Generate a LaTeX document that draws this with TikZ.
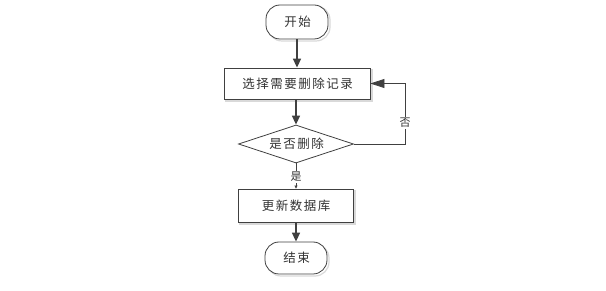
\documentclass[tikz,border=0pt]{standalone}
\usepackage{fontspec}
\newfontfamily\cjk[LetterSpace=12]{Noto Sans CJK SC}
\usetikzlibrary{shapes.geometric,arrows.meta}
\definecolor{ln}{HTML}{404040}
\tikzset{
  base/.style={draw=ln, line width=0.8pt, fill=white, font=\cjk\fontsize{12.5}{14}\selectfont, inner sep=0pt, text=black!80},
  term/.style={base, rounded corners=14pt, minimum width=62pt, minimum height=34pt},
  proc/.style={base, minimum height=31pt},
  dec/.style={base, diamond, aspect=3.0, minimum width=115pt, minimum height=38pt},
  shad/.style={draw=black!15, line width=1.2pt},
  flow/.style={draw=ln, line width=1.6pt, -{Triangle[length=9pt,width=8pt]}},
  lbl/.style={font=\cjk\fontsize{11}{13}\selectfont, fill=white, inner sep=1pt, text=black!80}
}
\begin{document}
\begin{tikzpicture}[x=1pt,y=-1pt]
\useasboundingbox (0,0) rectangle (606,291);
% shadows
\draw[shad, rounded corners=14pt] (268,6) rectangle (330,41);
\draw[shad] (226,70) rectangle (372,101);
\draw[shad] (240,191) rectangle (355,224);
\draw[shad, rounded corners=14pt] (267,244) rectangle (329,276);
\node[term] (start) at (297,22) {\hspace{1pt}开始};
\node[proc, minimum width=146pt] (sel) at (297,83.5) {\hspace{1pt}选择需要删除记录};
\node[dec] (chk) at (296,144) {\hspace{1pt}是否删除};
\node[proc, minimum width=115pt, minimum height=33pt] (upd) at (295.5,205.5) {\hspace{1pt}更新数据库};
\node[term, minimum width=62pt, minimum height=32pt] (end) at (296,258) {\hspace{1pt}结束};
\coordinate (c1) at (405,144);
\coordinate (c2) at (405,83.5);
\draw[flow] (start) -- (sel);
\draw[flow] (sel.south -| chk.north) -- (chk.north);
\draw[draw=ln, line width=0.8pt, -{Triangle[length=14pt,width=9pt]}] (chk.east) -- (c1) -- (c2) -- (sel.east);
\node[lbl] at (405,123) {否};
\draw[draw=ln, line width=0.6pt, -{Triangle[length=3pt,width=3pt]}] (chk.south) -- (chk.south |- upd.north);
\node[lbl] at (296,177) {是};
\draw[flow] (upd.south -| end.north) -- (end.north);
\end{tikzpicture}
\end{document}
